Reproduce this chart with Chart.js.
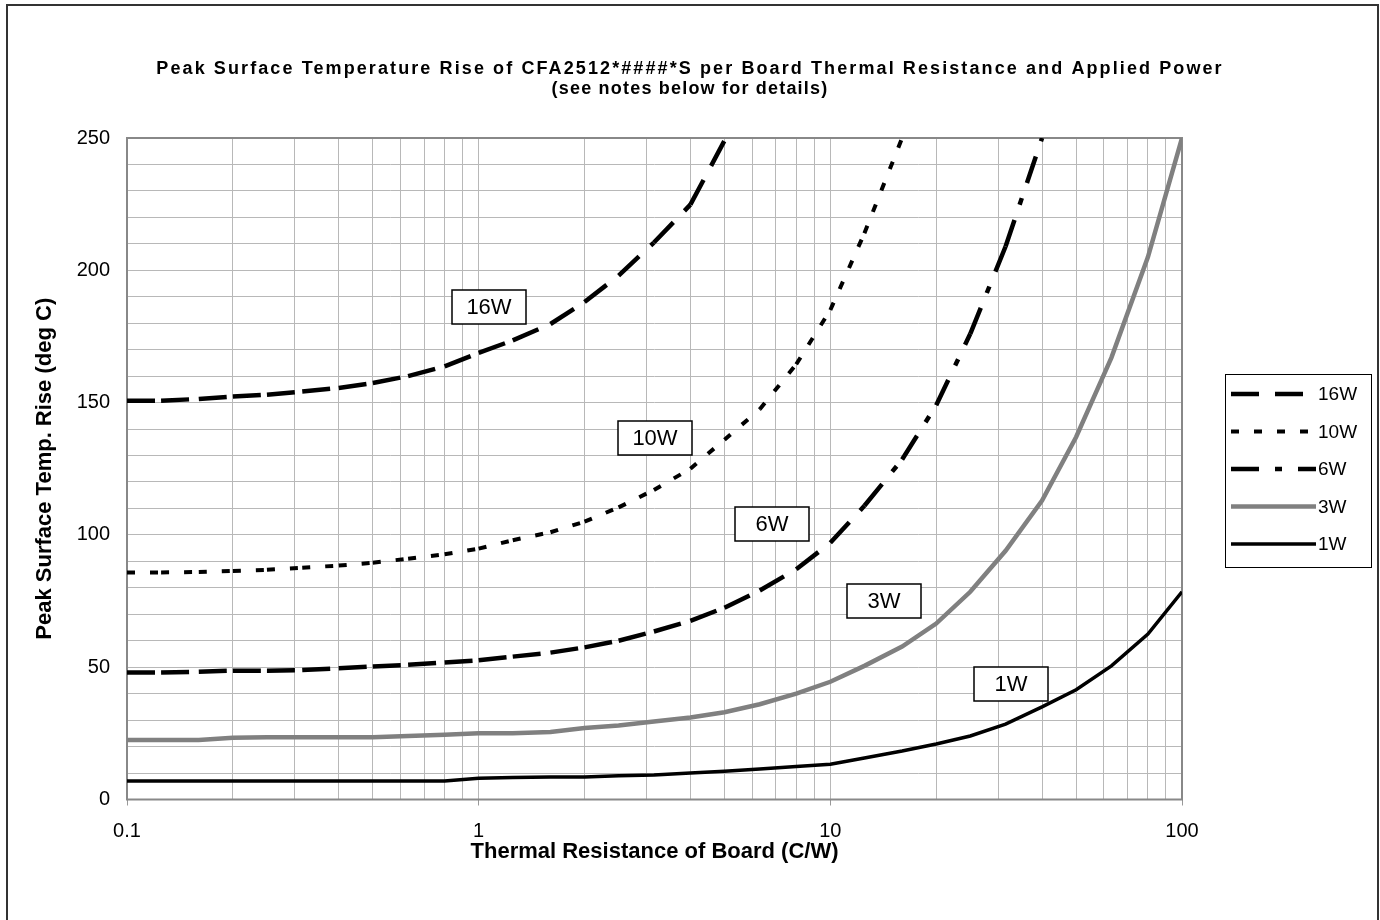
<!DOCTYPE html>
<html>
<head>
<meta charset="utf-8">
<script src="https://cdn.jsdelivr.net/npm/chart.js@4.4.0/dist/chart.umd.min.js"></script>
<style>
  html, body { margin: 0; padding: 0; background: #fff; }
  #wrap { width: 1380px; height: 920px; }
</style>
</head>
<body>
<div id="wrap"><canvas id="chart"></canvas></div>
<script>
const titleLines = [
  'Peak Surface Temperature Rise of CFA2512*####*S per Board Thermal Resistance and Applied Power',
  '(see notes below for details)'
];
const xTitle = 'Thermal Resistance of Board (C/W)';
const yTitle = 'Peak Surface Temp. Rise (deg C)';

// board thermal resistance (C/W), 10 steps per decade
const resistance = [0.1, 0.125, 0.16, 0.2, 0.25, 0.315, 0.4, 0.5, 0.63, 0.8,
  1, 1.25, 1.6, 2, 2.5, 3.15, 4, 5, 6.3, 8,
  10, 12.5, 16, 20, 25, 31.5, 40, 50, 63, 80, 100];

// temperature rise (deg C) per applied power, curves stop at the top of the chart
const rise16W = [150.7, 150.7, 151.4, 152.3, 153, 154.2, 155.5, 157.4, 160, 163.7,
  168.8, 173.5, 179.7, 188, 198, 210.5, 224.8, 249];
const rise10W = [85.8, 85.8, 86, 86.4, 86.8, 87.6, 88.4, 89.5, 91, 92.7,
  94.8, 98, 101, 105, 110.4, 117, 125, 136, 147.5, 164.5,
  185, 214, 250];
const rise6W = [48, 48, 48.3, 48.7, 48.7, 48.9, 49.6, 50.3, 50.9, 51.8,
  52.6, 54, 55.5, 57.5, 60, 63.5, 67.5, 72.5, 79, 87,
  97, 111, 128.5, 149, 176, 209, 250];
const rise3W = [22.5, 22.5, 22.5, 23.3, 23.5, 23.5, 23.5, 23.5, 24, 24.5,
  25, 25, 25.5, 27, 28, 29.5, 31, 33, 36, 40,
  44.5, 50.5, 57.8, 66.5, 78.5, 94, 113, 137, 167, 205, 250];
const rise1W = [7, 7, 7, 7, 7, 7, 7, 7, 7, 7,
  8, 8.3, 8.5, 8.5, 9, 9.3, 10, 10.7, 11.5, 12.5,
  13.3, 15.7, 18.3, 21, 24, 28.5, 35, 41.5, 50.5, 62.5, 78.5];

const seriesNames = ['16W', '10W', '6W', '3W', '1W'];
const seriesValues = [rise16W, rise10W, rise6W, rise3W, rise1W];

// boxed curve labels (data coords)
const labelX = [1.07, 3.18, 6.84, 14.25, 32.7];
const labelY = [186, 136.7, 104.2, 74.9, 43.7];

const xTickLabels = [0.1, 1, 10, 100];
const yTickLabels = [0, 50, 100, 150, 200, 250];

const FONT = 'Arial, "Liberation Sans", sans-serif';

const lineStyles = [
  { color: '#000', width: 4.5, dash: [28, 16] },
  { color: '#000', width: 4, dash: [8, 15] },
  { color: '#000', width: 4.5, dash: [28, 16, 7, 16] },
  { color: '#808080', width: 4.5, dash: [] },
  { color: '#000', width: 3.5, dash: [] }
];

// minor grid lines 1..9 per decade
const xGrid = [];
[0.1, 1, 10].forEach(d => {
  for (let m = 1; m <= 9; m++) xGrid.push(+(d * m).toPrecision(6));
});
xGrid.push(100);

const datasets = seriesNames.map((name, i) => {
  const st = lineStyles[i];
  const ds = {
    label: name,
    data: seriesValues[i].map((v, k) => ({ x: resistance[k], y: v })),
    borderColor: st.color,
    borderWidth: st.width,
    borderDash: st.dash,
    pointRadius: 0,
    tension: 0,
    fill: false
  };
  if (st.dash.length) {
    // restart the dash pattern on every segment, the way the original was drawn
    ds.segment = { borderDashOffset: c => (c.p0DataIndex % 2) * 0.001 };
  }
  return ds;
});

const framePlugin = {
  id: 'frame',
  beforeDraw(chart) {
    const c = chart.ctx;
    c.save();
    c.fillStyle = '#fff';
    c.fillRect(0, 0, chart.width, chart.height);
    c.strokeStyle = '#333';
    c.lineWidth = 2;
    c.beginPath();
    c.moveTo(7, 925);
    c.lineTo(7, 5);
    c.lineTo(1378, 5);
    c.lineTo(1378, 925);
    c.stroke();
    c.restore();
  },
  beforeDatasetsDraw(chart) {
    const a = chart.chartArea;
    const c = chart.ctx;
    c.save();
    c.strokeStyle = '#888';
    c.lineWidth = 2;
    c.strokeRect(a.left, a.top, a.right - a.left, a.bottom - a.top);
    c.restore();
  },
  afterDraw(chart) {
    const c = chart.ctx;
    c.save();
    c.font = 'bold 18px ' + FONT;
    c.letterSpacing = '2.1px';
    c.fillStyle = '#000';
    c.textAlign = 'center';
    c.textBaseline = 'middle';
    c.fillText(titleLines[0], 690, 69);
    c.letterSpacing = '1.2px';
    c.fillText(titleLines[1], 690, 89);
    c.restore();
  }
};

const labelPlugin = {
  id: 'curveLabels',
  afterDatasetsDraw(chart) {
    const c = chart.ctx;
    const xs = chart.scales.x, ys = chart.scales.y;
    c.save();
    c.font = '22px ' + FONT;
    c.textAlign = 'center';
    c.textBaseline = 'middle';
    seriesNames.forEach((name, i) => {
      const px = Math.round(xs.getPixelForValue(labelX[i]));
      const py = Math.round(ys.getPixelForValue(labelY[i]));
      c.fillStyle = '#fff';
      c.fillRect(px - 37, py - 17, 74, 34);
      c.strokeStyle = '#000';
      c.lineWidth = 1.5;
      c.strokeRect(px - 37, py - 17, 74, 34);
      c.fillStyle = '#000';
      c.fillText(name, px, py + 1);
    });
    c.restore();
  }
};

const legendPlugin = {
  id: 'legendBox',
  afterDraw(chart) {
    const c = chart.ctx;
    c.save();
    c.strokeStyle = '#000';
    c.lineWidth = 1;
    c.strokeRect(1225.5, 374.5, 146, 193);
    chart.data.datasets.forEach((ds, i) => {
      const y = 394 + i * 37.5;
      c.save();
      c.beginPath();
      c.rect(1231, y - 10, 85, 20);
      c.clip();
      c.strokeStyle = ds.borderColor;
      c.lineWidth = ds.borderWidth;
      c.setLineDash(ds.borderDash);
      c.beginPath();
      c.moveTo(1231, y);
      c.lineTo(1316, y);
      c.stroke();
      c.restore();
      c.fillStyle = '#000';
      c.font = '19px ' + FONT;
      c.textBaseline = 'middle';
      c.fillText(ds.label, 1318, y + 1);
    });
    c.restore();
  }
};

const isLabelled = (list, v) => list.some(t => Math.abs(t - v) < 1e-9);

new Chart(document.getElementById('chart'), {
  type: 'line',
  data: { datasets },
  options: {
    responsive: true,
    maintainAspectRatio: false,
    animation: false,
    layout: { padding: { top: 138, right: 198, bottom: 0, left: 0 } },
    plugins: {
      legend: { display: false },
      title: { display: false },
      tooltip: { enabled: false }
    },
    scales: {
      x: {
        type: 'logarithmic',
        min: 0.1,
        max: 100,
        afterBuildTicks: s => { s.ticks = xGrid.map(v => ({ value: v })); },
        afterFit: s => { s.height = 120.5; },
        border: { display: false },
        grid: {
          color: '#b8b8b8',
          lineWidth: 1,
          drawTicks: true,
          tickLength: 6,
          tickColor: c => (c.tick && isLabelled(xTickLabels, c.tick.value)) ? '#999' : 'rgba(0,0,0,0)'
        },
        ticks: {
          autoSkip: false,
          maxRotation: 0,
          padding: 14,
          color: '#000',
          font: { family: FONT, size: 20 },
          callback: v => isLabelled(xTickLabels, v) ? String(v) : ''
        },
        title: {
          display: true,
          text: xTitle,
          color: '#000',
          font: { family: FONT, size: 22, weight: 'bold' },
          padding: { top: 0, bottom: 55 }
        }
      },
      y: {
        min: 0,
        max: 250,
        afterFit: s => { s.width = 127; },
        border: { display: false },
        grid: { color: '#b8b8b8', lineWidth: 1, drawTicks: false },
        ticks: {
          stepSize: 10,
          autoSkip: false,
          padding: 17,
          color: '#000',
          font: { family: FONT, size: 20 },
          callback: v => isLabelled(yTickLabels, v) ? String(v) : ''
        },
        title: {
          display: true,
          text: yTitle,
          color: '#000',
          font: { family: FONT, size: 22, weight: 'bold' },
          padding: { top: 32, bottom: 0 }
        }
      }
    }
  },
  plugins: [framePlugin, labelPlugin, legendPlugin]
});
</script>
</body>
</html>
